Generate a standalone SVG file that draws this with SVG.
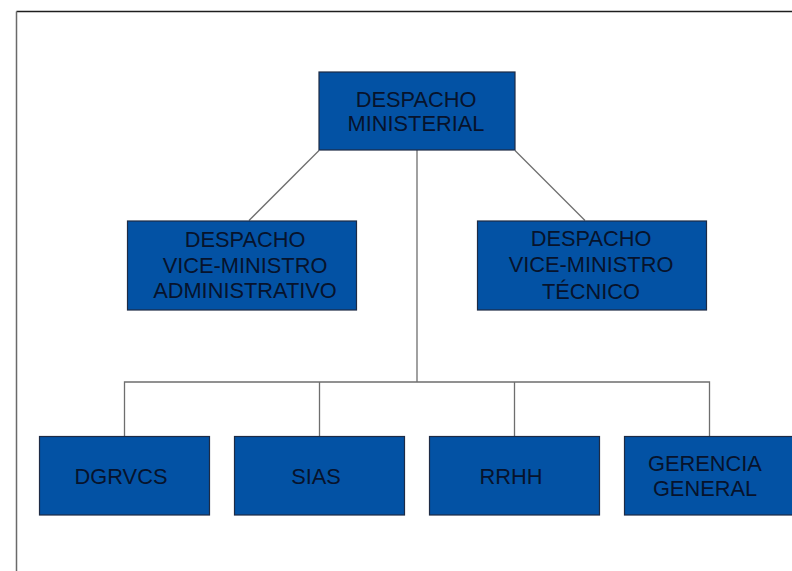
<svg xmlns="http://www.w3.org/2000/svg" width="792" height="571" viewBox="0 0 792 571">
<style>
.box{fill:#0352A4;stroke:#1D2B45;stroke-width:1.2}
.lbl{font-family:"Liberation Sans",Arial,sans-serif;font-size:21.8px;fill:#07132C;text-anchor:middle}
.conn{stroke:#6E6E6E;stroke-width:1.3;fill:none}
</style>
<rect width="792" height="571" fill="#FFFFFF"/>
<g id="frame">
<line x1="16.5" y1="11.5" x2="792" y2="11.5" stroke="#1E1E1E" stroke-width="1.3"/>
<line x1="16.5" y1="11.5" x2="16.5" y2="571" stroke="#6A6A6A" stroke-width="1.5"/>
</g>
<g id="connectors">
<line class="conn" x1="417" y1="150" x2="417" y2="382"/>
<polyline class="conn" points="124.5,436 124.5,382 709.5,382 709.5,436"/>
<line class="conn" x1="319.5" y1="382" x2="319.5" y2="436"/>
<line class="conn" x1="514.5" y1="382" x2="514.5" y2="436"/>
<line class="conn" x1="319" y1="150.5" x2="249" y2="220.5"/>
<line class="conn" x1="515" y1="150.5" x2="585" y2="220.5"/>
</g>
<g id="despacho-ministerial">
<rect class="box" x="319" y="72" width="196" height="78"/>
<text class="lbl" x="416" y="106.5">DESPACHO</text>
<text class="lbl" x="416" y="131">MINISTERIAL</text>
</g>
<g id="vice-administrativo">
<rect class="box" x="127.5" y="221" width="229" height="89"/>
<text class="lbl" x="245" y="246.5">DESPACHO</text>
<text class="lbl" x="245" y="272.5">VICE-MINISTRO</text>
<text class="lbl" x="245" y="297.5">ADMINISTRATIVO</text>
</g>
<g id="vice-tecnico">
<rect class="box" x="477.5" y="221" width="229" height="89"/>
<text class="lbl" x="591" y="246">DESPACHO</text>
<text class="lbl" x="591" y="271.5">VICE-MINISTRO</text>
<text class="lbl" x="591" y="299">TÉCNICO</text>
</g>
<g id="dgrvcs">
<rect class="box" x="39.5" y="436.5" width="170" height="78.5"/>
<text class="lbl" x="121" y="483.5">DGRVCS</text>
</g>
<g id="sias">
<rect class="box" x="234.5" y="436.5" width="170" height="78.5"/>
<text class="lbl" x="316" y="483.5">SIAS</text>
</g>
<g id="rrhh">
<rect class="box" x="429.5" y="436.5" width="170" height="78.5"/>
<text class="lbl" x="511" y="483.5">RRHH</text>
</g>
<g id="gerencia-general">
<rect class="box" x="624.5" y="436.5" width="170" height="78.5"/>
<text class="lbl" x="705" y="471">GERENCIA</text>
<text class="lbl" x="705" y="495.5">GENERAL</text>
</g>
</svg>
